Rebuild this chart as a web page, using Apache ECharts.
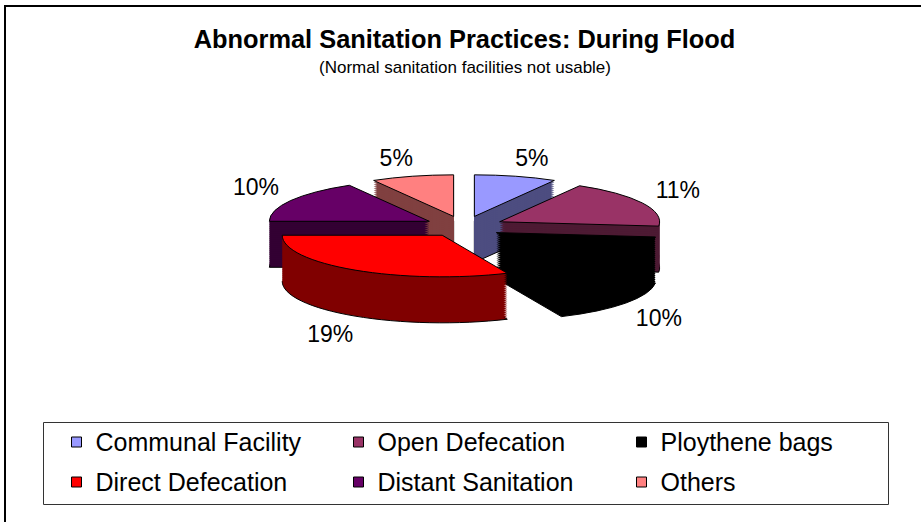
<!DOCTYPE html>
<html>
<head>
<meta charset="utf-8">
<script src="https://cdn.jsdelivr.net/npm/echarts@6/dist/echarts.min.js"></script>
<style>
html,body{margin:0;padding:0;background:#fff;}
#chart{width:921px;height:522px;}
#chart path,#chart rect{vector-effect:non-scaling-stroke;}
</style>
</head>
<body>
<div id="chart"></div>
<script>
// ---- data ----
const categories = ['Communal Facility', 'Open Defecation', 'Ploythene bags', 'Direct Defecation', 'Distant Sanitation', 'Others'];
const values = [5, 11, 10, 19, 10, 5];
const legendColumns = [[0, 3], [1, 4], [2, 5]];

// ---- styles ----
const topColors = ['#9999FF', '#993366', '#000000', '#FF0000', '#660066', '#FF8080'];
const sideColors = ['#4D4D80', '#4D1A33', '#000000', '#800000', '#330033', '#804040'];
const FONT = '"Liberation Sans", Arial, sans-serif';

// ---- layout ----
const CX = 464, CY = 226.5, R = 160, K = 0.26, EXPLODE = 40, DEPTH = 46, LAYERS = 23;
const LABEL_CX = 464, LABEL_CY = 218.4, LABEL_R = 231, LABEL_K = 0.2706, FRONT_DROP = 63, LABEL_SIDE = 8;
const LEGEND_LEFT = [71, 353, 636];

function pieLayer(id, colors, depth, stroke) {
  return {
    type: 'pie', id: id, silent: true, animation: false,
    center: [CX, CY + depth / K], radius: [0, R],
    startAngle: 90, clockwise: true,
    selectedMode: 'multiple', selectedOffset: EXPLODE,
    avoidLabelOverlap: false,
    label: { show: false }, labelLine: { show: false },
    emphasis: { disabled: true },
    itemStyle: { borderColor: '#000', borderWidth: stroke },
    select: { itemStyle: { borderColor: '#000', borderWidth: stroke } },
    data: categories.map((n, i) => ({ name: n, value: values[i], selected: true, itemStyle: { color: colors[i] } }))
  };
}

const series = [];
for (let j = LAYERS; j >= 1; j--) {
  series.push(pieLayer('side' + j, sideColors, DEPTH * j / LAYERS, j === LAYERS ? 1 : 0));
}
series.push(pieLayer('top', topColors, 0, 1));
series.push({
  type: 'pie', id: 'labels', silent: true, animation: false,
  center: [LABEL_CX, LABEL_CY], radius: [0, LABEL_R],
  startAngle: 90, clockwise: true, avoidLabelOverlap: false,
  emphasis: { disabled: true },
  itemStyle: { color: 'rgba(0,0,0,0)', borderWidth: 0 },
  label: { show: true, position: 'outside', alignTo: 'none', distanceToLabelLine: 0,
           formatter: '{c}%', color: '#000', fontSize: 23, fontFamily: FONT },
  labelLine: { show: false, length: 0, length2: 0 },
  labelLayout: function (p) {
    const r = p.labelRect;
    const right = (r.x + r.width / 2) > LABEL_CX;
    const ax = right ? r.x : r.x + r.width;
    const ay = r.y + r.height / 2;
    const dy = ay - LABEL_CY;
    return {
      x: ax + (right ? LABEL_SIDE : -LABEL_SIDE),
      y: LABEL_CY + dy * LABEL_K + (dy > 0 ? FRONT_DROP : 0),
      align: 'center', verticalAlign: 'middle'
    };
  },
  data: categories.map((n, i) => ({ name: n, value: values[i] }))
});

const option = {
  backgroundColor: '#fff',
  animation: false,
  title: [
    { text: 'Abnormal Sanitation Practices: During Flood', left: 464.5, textAlign: 'center', top: 24, padding: 0,
      textStyle: { fontSize: 25.4, fontWeight: 'bold', fontFamily: FONT, color: '#000', lineHeight: 30 } },
    { text: '(Normal sanitation facilities not usable)', left: 465, textAlign: 'center', top: 57.5, padding: 0,
      textStyle: { fontSize: 17, fontWeight: 'normal', fontFamily: FONT, color: '#000', lineHeight: 20 } }
  ],
  legend: legendColumns.map((col, c) => ({
    orient: 'vertical', left: LEGEND_LEFT[c], top: 428, padding: 0, itemGap: 12,
    itemWidth: 10, itemHeight: 10, icon: 'rect', selectedMode: false,
    textStyle: { fontSize: 25, fontFamily: FONT, color: '#000', lineHeight: 28, padding: [0, 0, 0, 9] },
    data: col.map(i => ({ name: categories[i], itemStyle: { color: topColors[i], borderColor: '#000', borderWidth: 1 } }))
  })),
  graphic: [
    { type: 'rect', silent: true, shape: { x: 5, y: 6, width: 940, height: 540 },
      style: { fill: 'none', stroke: '#000', lineWidth: 2 } },
    { type: 'rect', silent: true, shape: { x: 43.5, y: 422.5, width: 845, height: 82 },
      style: { fill: 'none', stroke: '#333', lineWidth: 1 } }
  ],
  series: series
};

const chart = echarts.init(document.getElementById('chart'), null, { renderer: 'svg' });
chart.setOption(option);

// squash the circular pie layers into the flat perspective ellipse
function squash() {
  const model = chart.getModel();
  model.eachSeries(function (s) {
    if (s.id === 'labels') return;
    const view = chart.getViewOfSeriesModel(s);
    const g = view.group;
    g.originX = 0; g.originY = CY; g.scaleX = 1; g.scaleY = K;
    g.traverse(function (el) { if (el.markRedraw) el.markRedraw(); });
    if (g.markRedraw) g.markRedraw();
  });
  chart.getZr().refreshImmediately();
}
squash();
</script>
</body>
</html>
